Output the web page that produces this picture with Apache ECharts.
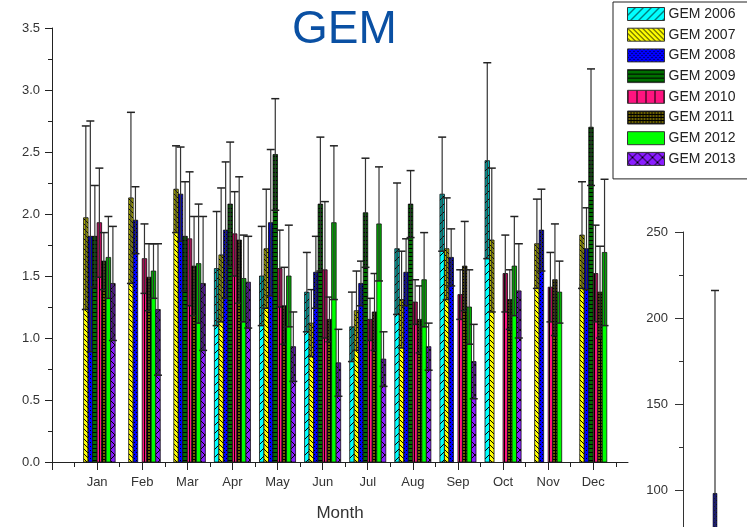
<!DOCTYPE html>
<html><head><meta charset="utf-8">
<script src="https://cdn.jsdelivr.net/npm/echarts@6/dist/echarts.min.js"></script>
<style>html,body{margin:0;padding:0;background:#fff}#c{width:747px;height:527px}</style>
</head><body><div id="c"></div>
<script>
// ---- data ----
const months = ['Jan','Feb','Mar','Apr','May','Jun','Jul','Aug','Sep','Oct','Nov','Dec'];
const yTicks = [0, 0.5, 1.0, 1.5, 2.0, 2.5, 3.0, 3.5];
const seriesNames = ['GEM 2006','GEM 2007','GEM 2008','GEM 2009','GEM 2010','GEM 2011','GEM 2012','GEM 2013'];

const mean2006 = [null, null, null, 1.56, 1.50, 1.37, 1.09, 1.72, 2.16, 2.43, null, null];
const err2006  = [null, null, null, 0.46, 0.40, 0.32, 0.28, 0.53, 0.46, 0.79, null, null];
const mean2007 = [1.97, 2.13, 2.20, 1.67, 1.72, 1.12, 1.22, 1.31, 1.72, 1.79, 1.76, 1.83];
const err2007  = [0.74, 0.69, 0.35, 0.54, 0.48, 0.27, 0.32, 0.39, 0.41, 0.58, 0.36, 0.43];
const mean2008 = [1.82, 1.95, 2.16, 1.87, 1.93, 1.53, 1.44, 1.53, 1.65, null, 1.87, 1.72];
const err2008  = [0.93, 0.27, 0.38, 0.55, 0.59, 0.29, 0.18, 0.27, 0.23, null, 0.33, 0.33];
const mean2009 = [1.82, null, 1.82, 2.08, 2.48, 2.08, 2.01, 2.08, null, null, null, 2.70];
const err2009  = [0.41, null, 0.44, 0.50, 0.45, 0.54, 0.44, 0.27, null, null, null, 0.47];
const mean2010 = [1.93, 1.64, 1.80, 1.84, 1.56, 1.55, 1.15, 1.29, 1.35, 1.52, 1.41, 1.52];
const err2010  = [0.44, 0.28, 0.54, 0.34, 0.31, 0.55, 0.17, 0.18, 0.20, 0.31, 0.28, 0.39];
const mean2011 = [1.62, 1.49, 1.58, 1.79, 1.26, 1.15, 1.21, 1.15, 1.58, 1.31, 1.47, 1.37];
const err2011  = [0.23, 0.27, 0.40, 0.51, 0.31, 0.18, 0.31, 0.27, 0.36, 0.24, 0.45, 0.37];
const mean2012 = [1.65, 1.54, 1.60, 1.48, 1.50, 1.93, 1.92, 1.47, 1.25, 1.58, 1.37, 1.69];
const err2012  = [0.33, 0.22, 0.48, 0.35, 0.41, 0.62, 0.46, 0.38, 0.30, 0.40, 0.25, 0.59];
const mean2013 = [1.44, 1.23, 1.44, 1.45, 0.93, 0.80, 0.83, 0.93, 0.81, 1.38, null, null];
const err2013  = [0.46, 0.53, 0.54, 0.37, 0.28, 0.27, 0.22, 0.19, 0.30, 0.38, null, null];

// partial second panel at the right edge
const rightTicks = [100, 150, 200, 250];
const rightMinorTicks = [125, 175, 225];
const rightMean = [98];
const rightErr  = [118];

// ---- styling helpers ----
function pat(bg, w, h, draw){
  const c = document.createElement('canvas'); c.width = w; c.height = h;
  const g = c.getContext('2d');
  g.fillStyle = bg; g.fillRect(0,0,w,h);
  g.fillStyle = '#000'; g.strokeStyle = '#000'; g.lineWidth = 1;
  if (draw) draw(g, w, h);
  return {image: c, repeat: 'repeat'};
}
const patterns = [
  pat('#00ffff', 8, 8, (g,w,h)=>{g.beginPath();g.moveTo(0,h);g.lineTo(w,0);g.stroke();}),
  pat('#ffff00', 5, 5, (g,w,h)=>{g.beginPath();g.moveTo(0,0);g.lineTo(w,h);g.stroke();}),
  pat('#0000ff', 4, 4, (g)=>{g.fillRect(0,0,1,1);g.fillRect(2,2,1,1);}),
  pat('#006f00', 4, 4, (g,w)=>{g.fillRect(0,0,w,1);}),
  pat('#ff1480', 9, 9, (g,w,h)=>{g.fillRect(0,0,1,h);}),
  pat('#6b6000', 3, 3, (g,w,h)=>{g.fillRect(0,0,w,1);g.fillRect(0,0,1,h);}),
  pat('#00ff00', 4, 4, null),
  pat('#8a1cff', 10, 10, (g,w,h)=>{g.beginPath();g.moveTo(0,0);g.lineTo(w,h);g.moveTo(0,h);g.lineTo(w,0);g.stroke();})
];

const means = [mean2006, mean2007, mean2008, mean2009, mean2010, mean2011, mean2012, mean2013];
const errs  = [err2006, err2007, err2008, err2009, err2010, err2011, err2012, err2013];
const SLOT = 0.1;   // slot width in month units (8 slots per month)
const FONT = '"Liberation Sans", Arial, sans-serif';

function barRender(slotIndex, slotW, fill){
  return function(params, api){
    const x = api.value(0), v = api.value(1), e = api.value(2);
    const xc = x + (slotIndex - 3.5) * slotW;
    const top = api.coord([xc, v]);
    const base = api.coord([xc, 0]);
    const lo = api.coord([xc, Math.max(0, v - e)]);
    const hi = api.coord([xc, v + e]);
    const w = api.size([slotW, 0])[0];
    const cx = top[0];
    const capW = 8;
    return {
      type: 'group',
      children: [
        {type:'rect', shape:{x:cx - w/2, y:top[1], width:w, height:base[1]-top[1]},
          style:{fill: fill, stroke:'#111', lineWidth:0.8}},
        {type:'rect', shape:{x:cx - w/2, y:top[1], width:w, height:lo[1]-top[1]},
          style:{fill:'rgba(0,0,0,0.3)'}},
        {type:'line', shape:{x1:cx, y1:lo[1], x2:cx, y2:hi[1]}, style:{stroke:'#333', lineWidth:1.2}},
        {type:'line', shape:{x1:cx-capW/2, y1:hi[1], x2:cx+capW/2, y2:hi[1]}, style:{stroke:'#222', lineWidth:1.5}},
        {type:'line', shape:{x1:cx-capW/2, y1:lo[1], x2:cx+capW/2, y2:lo[1]}, style:{stroke:'#222', lineWidth:1.5}}
      ]
    };
  };
}

const series = seriesNames.map((name, si) => ({
  name: name,
  type: 'custom',
  xAxisIndex: 0, yAxisIndex: 0,
  itemStyle: {color: patterns[si], borderColor: '#222', borderWidth: 1},
  renderItem: barRender(si, SLOT, patterns[si]),
  data: months.map((m, i) => means[si][i] == null ? null : [i + 1, means[si][i], errs[si][i]]).filter(Boolean)
}));

series.push({
  name: 'right',
  type: 'custom',
  xAxisIndex: 2, yAxisIndex: 1,
  itemStyle: {color: patterns[2]},
  renderItem: barRender(3.5, 0.115, patterns[2]),
  data: rightMean.map((v, i) => [1, v, rightErr[i]]),
  clip: false
});

const monthTicks = months.map((m, i) => i + 1);
const chart = echarts.init(document.getElementById('c'), null, {renderer: 'canvas'});
chart.setOption({
  animation: false,
  backgroundColor: '#fff',
  title: {
    text: 'GEM', left: 287, top: 2,
    textStyle: {fontSize: 46, fontWeight: 'normal', color: '#0a50a3', fontFamily: FONT}
  },
  legend: {
    data: seriesNames, orient: 'vertical', left: 613, top: 2,
    icon: 'rect', itemWidth: 37, itemHeight: 13, itemGap: 6.7,
    padding: [5, 30, 13, 14],
    backgroundColor: '#fff', borderColor: '#222', borderWidth: 1,
    itemStyle: {borderColor: '#333', borderWidth: 1},
    textStyle: {fontSize: 14, color: '#222', fontFamily: FONT, lineHeight: 13, padding: [0,0,0,-1]}
  },
  grid: [
    {left: 52, top: 28, width: 576, height: 434},
    {left: 683, top: 232, width: 79, height: 295}
  ],
  xAxis: [
    {
      gridIndex: 0, type: 'value', min: 0, max: 12.77, position: 'bottom',
      axisLine: {show: true, lineStyle: {color: '#222', width: 1}},
      axisTick: {show: true, length: 8, customValues: [0].concat(monthTicks), lineStyle: {color: '#222'}},
      axisLabel: {customValues: monthTicks, formatter: v => months[Math.round(v) - 1] || '',
        fontSize: 13, color: '#333', fontFamily: FONT, margin: 14},
      splitLine: {show: false},
      name: 'Month', nameLocation: 'middle', nameGap: 43,
      nameTextStyle: {fontSize: 17, color: '#333', fontFamily: FONT}
    },
    {
      gridIndex: 0, type: 'value', min: 0, max: 12.77, position: 'bottom',
      axisLine: {show: false},
      axisTick: {show: true, length: 5, customValues: months.map((m, i) => i + 0.5).concat([12.5]), lineStyle: {color: '#222'}},
      axisLabel: {show: false},
      splitLine: {show: false}
    },
    {
      gridIndex: 1, type: 'value', min: 0, max: 2, show: false
    }
  ],
  yAxis: [
    {
      gridIndex: 0, type: 'value', min: 0, max: 3.5, interval: 0.5,
      axisLine: {show: true, lineStyle: {color: '#222', width: 1}},
      axisTick: {show: true, length: 7, lineStyle: {color: '#222'}},
      minorTick: {show: true, splitNumber: 2, length: 4, lineStyle: {color: '#222'}},
      axisLabel: {formatter: v => (yTicks.indexOf(v) >= 0 ? v.toFixed(1) : ''),
        fontSize: 13, color: '#333', fontFamily: FONT, margin: 12},
      splitLine: {show: false}
    },
    {
      gridIndex: 1, type: 'value', min: 78.5, max: 250,
      axisLine: {show: true, lineStyle: {color: '#333', width: 1}},
      axisTick: {show: true, length: 8, customValues: rightTicks, lineStyle: {color: '#333'}},
      axisLabel: {customValues: rightTicks, formatter: v => String(v),
        fontSize: 13, color: '#333', fontFamily: FONT, margin: 15},
      splitLine: {show: false}
    },
    {
      gridIndex: 1, type: 'value', min: 78.5, max: 250, position: 'left',
      axisLine: {show: false},
      axisTick: {show: true, length: 4, customValues: rightMinorTicks, lineStyle: {color: '#333'}},
      axisLabel: {show: false},
      splitLine: {show: false}
    }
  ],
  series: series
});
</script></body></html>
